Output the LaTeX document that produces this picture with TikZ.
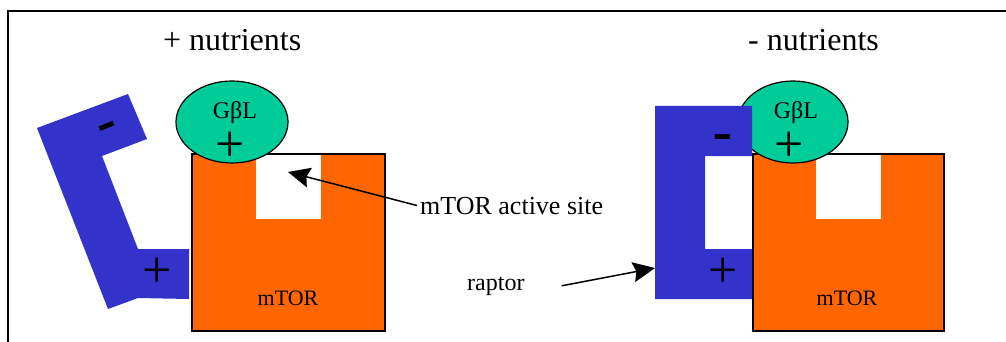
\documentclass[tikz,border=0pt]{standalone}
\usepackage{fontspec}
\setmainfont{Liberation Serif}
\setsansfont{Liberation Sans}
\usepackage{xcolor}
\usetikzlibrary{arrows.meta}

\definecolor{raptorBlue}{RGB}{51,51,204}
\definecolor{torOrange}{RGB}{255,102,0}
\definecolor{gblGreen}{RGB}{0,204,153}

\begin{document}
\begin{tikzpicture}[x=1pt,y=-1pt,
    pointer/.style={line width=1.5pt,-{Stealth[length=22pt,width=20pt,inset=3pt]}},
    plussign/.style={font=\fontsize{52}{52}\selectfont,inner sep=0pt},
    minussign/.style={font=\sffamily\fontsize{62}{62}\selectfont,inner sep=0pt},
    labeltext/.style={font=\fontsize{#1}{#1}\selectfont,inner sep=3pt}]
    \pgfmathsetmacro{\boxTop}{154}
    \pgfmathsetmacro{\boxBottom}{331}
    \pgfmathsetmacro{\notchBottom}{219}
    \pgfmathsetmacro{\leftBox}{192}
    \pgfmathsetmacro{\rightBox}{753}

    \useasboundingbox (0,0) rectangle (1006,342);

    % Rahmen
    \draw[line width=1.5pt] (8,342) -- (8,11) -- (1006,11);

    % + nutrients: Raptor gekippt
    \fill[raptorBlue] (37,128) -- (128,94) -- (147,139) -- (102,156) -- (138,249)
      -- (189,249) -- (189,299) -- (138,298) -- (108,309) -- cycle;

    % + nutrients: mTOR mit aktivem Zentrum
    \draw[line width=1.5pt,fill=torOrange] (\leftBox,\boxTop) rectangle (\leftBox+193,\boxBottom);
    \fill[white] (\leftBox+64,\boxTop+1) rectangle (\leftBox+129,\notchBottom);

    % + nutrients: GbL
    \draw[line width=1.2pt,fill=gblGreen] (\leftBox+40,122) ellipse [x radius=56,y radius=41];

    \node[labeltext=32,anchor=base west,inner sep=0pt] (plusNutrients) at (163,51) {+ nutrients};
    \node[labeltext=24,anchor=base,inner sep=0pt] (gblLeft) at (235,119) {GβL};
    \node[plussign] (gblPlusLeft) at (230,147) {+};
    \node[plussign] (raptorPlusLeft) at (157,273) {+};
    \node[minussign,rotate=22] (raptorMinusLeft) at (110,133) {-};
    \node[labeltext=22,anchor=base] (torLeft) at (288,305) {mTOR};

    % - nutrients: mTOR
    \draw[line width=1.5pt,fill=torOrange] (\rightBox,\boxTop) rectangle (\rightBox+191,\boxBottom);
    \fill[white] (\rightBox+63,\boxTop+1) rectangle (\rightBox+128,\notchBottom);

    % - nutrients: GbL
    \draw[line width=1.2pt,fill=gblGreen] (\rightBox+40,122) ellipse [x radius=55,y radius=41];

    % - nutrients: Raptor gebunden
    \fill[raptorBlue] (655,106) -- (752,106) -- (752,156) -- (705,156) -- (705,249)
      -- (752,249) -- (752,299) -- (655,299) -- cycle;

    \node[labeltext=32,anchor=base west,inner sep=0pt] (minusNutrients) at (748,51) {- nutrients};
    \node[labeltext=24,anchor=base,inner sep=0pt] (gblRight) at (796,119) {GβL};
    \node[plussign] (gblPlusRight) at (789,147) {+};
    \node[plussign] (raptorPlusRight) at (723,273) {+};
    \node[minussign] (raptorMinusRight) at (723,144) {-};
    \node[labeltext=22,anchor=base] (torRight) at (847,305) {mTOR};

    % Beschriftung
    \node[labeltext=26,anchor=base west] (activeSite) at (417,214) {mTOR active site};
    \node[labeltext=24,anchor=base west] (raptor) at (464,290) {raptor};
    \coordinate (siteTip) at (288,172);
    \coordinate (raptorTip) at (655,268);
    \draw[pointer] (activeSite.west) -- (siteTip);
    \draw[pointer] ([xshift=34pt]raptor.east) -- (raptorTip);
\end{tikzpicture}
\end{document}
